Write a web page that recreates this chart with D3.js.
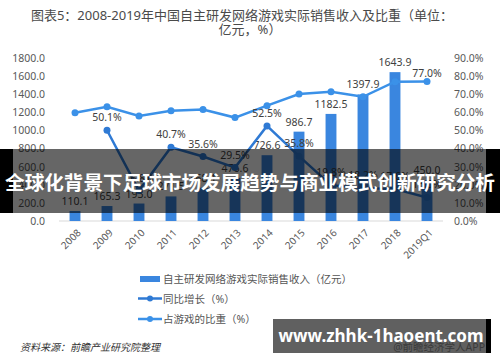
<!DOCTYPE html>
<html>
<head>
<meta charset="utf-8">
<script src="https://cdn.jsdelivr.net/npm/d3@7"></script>
<style>
  html, body { margin: 0; padding: 0; background: #fff; }
  svg text { font-family: "Noto Sans", "Noto Sans CJK SC", sans-serif; }
</style>
</head>
<body>
<div id="chart"></div>
<script>
// 2008-2019 self-developed online game revenue and share

const years = ['2008', '2009', '2010', '2011', '2012', '2013', '2014', '2015', '2016', '2017', '2018', '2019Q1'];
const revenue = [110.1, 165.3, 193.0, 271.5, 368.1, 476.6, 726.6, 986.7, 1182.5, 1397.9, 1643.9, 450.0];
const growth = [null, 50.1, 16.8, 40.7, 35.6, 29.5, 52.5, 35.8, 19.8, 18.2, 17.6, 13.0];
const share = [59.8, 63.1, 58.0, 60.9, 61.5, 57.1, 63.7, 70.1, 71.4, 68.6, 76.9, 77.0];
const leftTicks = [0, 200, 400, 600, 800, 1000, 1200, 1400, 1600, 1800];
const rightTicks = [0, 10, 20, 30, 40, 50, 60, 70, 80, 90];
const legendNames = ['自主研发网络游戏实际销售收入（亿元）', '同比增长（%）', '占游戏的比重（%）'];

function createChart() {
    const W = 500, H = 362;
    const svg = d3.select('#chart').append('svg')
        .attr('width', W)
        .attr('height', H);

    const barColor = '#3a86df';
    const growthColor = '#2f7ad4';
    const shareColor = '#3b91e8';
    const textColor = '#555';

    // Title
    const title = svg.append('text')
        .attr('x', 242)
        .attr('text-anchor', 'middle')
        .attr('font-size', '13px')
        .attr('fill', '#4a4a4a');
    title.append('tspan').attr('x', 242).attr('y', 20).text('图表5：2008-2019年中国自主研发网络游戏实际销售收入及比重（单位：');
    title.append('tspan').attr('x', 250).attr('y', 34).text('亿元，%）');

    // Scales
    const x = d3.scaleBand()
        .domain(years)
        .range([59, 443])
        .paddingInner(0.66)
        .paddingOuter(0.33);

    const y1 = d3.scaleLinear().domain([0, 1800]).range([221, 58]);
    const y2 = d3.scaleLinear().domain([0, 90]).range([221, 58]);
    const cx = d => x(d) + x.bandwidth() / 2;

    // Axes
    const left = svg.append('g')
        .attr('transform', 'translate(47,0)')
        .call(d3.axisLeft(y1).tickValues(leftTicks).tickSize(0).tickPadding(2).tickFormat(d3.format('.1f')));
    left.select('.domain').remove();

    const right = svg.append('g')
        .attr('transform', 'translate(452,0)')
        .call(d3.axisRight(y2).tickValues(rightTicks).tickSize(0).tickPadding(2).tickFormat(d => d.toFixed(1) + '%'));
    right.select('.domain').remove();

    svg.selectAll('.tick text')
        .attr('fill', '#595959')
        .attr('font-size', '10.5px')
        .attr('font-family', '"Noto Sans", sans-serif');

    // Baseline
    svg.append('line')
        .attr('x1', 59).attr('x2', 443)
        .attr('y1', y1(0)).attr('y2', y1(0))
        .attr('stroke', '#d9d9d9')
        .attr('stroke-width', 1);

    // X labels
    const xa = svg.append('g')
        .attr('transform', `translate(0,${y1(0)})`)
        .call(d3.axisBottom(x).tickSize(0).tickPadding(0));
    xa.select('.domain').remove();
    xa.selectAll('.tick text')
        .attr('text-anchor', 'end')
        .attr('transform', 'translate(4,10) rotate(-45)')
        .attr('dy', '0.35em')
        .attr('fill', '#595959')
        .attr('font-size', '10px');

    // Bars
    svg.selectAll('.bar')
        .data(years)
        .enter()
        .append('rect')
        .attr('class', 'bar')
        .attr('x', d => x(d))
        .attr('y', (d, i) => y1(revenue[i]))
        .attr('width', x.bandwidth())
        .attr('height', (d, i) => y1(0) - y1(revenue[i]))
        .attr('fill', barColor);

    svg.selectAll('.bar-label')
        .data(years)
        .enter()
        .append('text')
        .attr('x', d => cx(d))
        .attr('y', (d, i) => y1(revenue[i]) - 6)
        .attr('text-anchor', 'middle')
        .attr('font-size', '10.5px')
        .attr('fill', '#404040')
        .text((d, i) => revenue[i].toFixed(1));

    // Share line
    const shareLine = d3.line()
        .x(d => cx(d.year))
        .y(d => y2(d.v));
    const shareData = years.map((y, i) => ({ year: y, v: share[i] }));

    svg.append('path')
        .datum(shareData)
        .attr('fill', 'none')
        .attr('stroke', shareColor)
        .attr('stroke-width', 2.5)
        .attr('d', shareLine);

    svg.selectAll('.share-dot')
        .data(shareData)
        .enter()
        .append('circle')
        .attr('cx', d => cx(d.year))
        .attr('cy', d => y2(d.v))
        .attr('r', 3.5)
        .attr('fill', shareColor);

    const lastShare = shareData[shareData.length - 1];
    svg.append('text')
        .attr('x', cx(lastShare.year))
        .attr('y', y2(lastShare.v) - 5)
        .attr('text-anchor', 'middle')
        .attr('font-size', '10.5px')
        .attr('fill', '#404040')
        .text(lastShare.v.toFixed(1) + '%');

    // Growth line
    const growthData = years.map((y, i) => ({ year: y, v: growth[i] })).filter(d => d.v !== null);

    svg.append('path')
        .datum(growthData)
        .attr('fill', 'none')
        .attr('stroke', growthColor)
        .attr('stroke-width', 2.5)
        .attr('d', shareLine);

    svg.selectAll('.growth-dot')
        .data(growthData)
        .enter()
        .append('circle')
        .attr('cx', d => cx(d.year))
        .attr('cy', d => y2(d.v))
        .attr('r', 3.5)
        .attr('fill', growthColor);

    svg.selectAll('.growth-label')
        .data(growthData)
        .enter()
        .append('text')
        .attr('x', d => cx(d.year))
        .attr('y', d => y2(d.v) - 9)
        .attr('text-anchor', 'middle')
        .attr('font-size', '10.5px')
        .attr('fill', '#404040')
        .text(d => d.v.toFixed(1) + '%');

    // Legend
    const legend = svg.append('g').attr('transform', 'translate(140,279)');
    legend.append('rect')
        .attr('x', 0).attr('y', -3)
        .attr('width', 20).attr('height', 6)
        .attr('fill', barColor);
    [growthColor, shareColor].forEach((c, i) => {
        const gy = 19.5 + i * 20.5;
        legend.append('line')
            .attr('x1', -2).attr('x2', 22)
            .attr('y1', gy).attr('y2', gy)
            .attr('stroke', c).attr('stroke-width', 2.5);
        legend.append('circle')
            .attr('cx', 10).attr('cy', gy).attr('r', 3)
            .attr('fill', c);
    });
    legend.selectAll('.legend-text')
        .data(legendNames)
        .enter()
        .append('text')
        .attr('x', 23)
        .attr('y', (d, i) => i * 20 + i * 0.25)
        .attr('dy', '0.35em')
        .attr('font-size', '10.5px')
        .attr('fill', textColor)
        .attr('font-family', '"Noto Sans CJK SC", sans-serif')
        .text(d => d);

    // Source
    svg.append('text')
        .attr('x', 20)
        .attr('y', 351)
        .attr('font-size', '10px')
        .attr('font-style', 'italic')
        .attr('fill', '#333')
        .attr('font-family', '"Noto Sans CJK SC", sans-serif')
        .text('资料来源：前瞻产业研究院整理');

    // Overlay banner
    svg.append('rect')
        .attr('x', 0).attr('y', 149)
        .attr('width', W).attr('height', 64)
        .attr('fill', '#000').attr('opacity', 0.6);
    svg.append('rect')
        .attr('x', 0).attr('y', 149).attr('width', 13).attr('height', 64).attr('fill', '#000');
    svg.append('rect')
        .attr('x', 486).attr('y', 149).attr('width', 14).attr('height', 64).attr('fill', '#000');
    svg.append('text')
        .attr('x', 250)
        .attr('y', 183)
        .attr('dy', '0.36em')
        .attr('text-anchor', 'middle')
        .attr('font-size', '19.6px')
        .attr('font-weight', 'bold')
        .attr('fill', '#fff')
        .attr('font-family', '"Noto Sans CJK SC", sans-serif')
        .text('全球化背景下足球市场发展趋势与商业模式创新研究分析');

    // Bottom watermark box
    svg.append('rect')
        .attr('x', 273).attr('y', 319).attr('width', 213).attr('height', 34)
        .attr('fill', '#606060');
    svg.append('rect')
        .attr('x', 486).attr('y', 319).attr('width', 5).attr('height', 34)
        .attr('fill', '#000');
    svg.append('text')
        .attr('x', 485)
        .attr('y', 351)
        .attr('text-anchor', 'end')
        .attr('font-size', '10.5px')
        .attr('fill', '#3a3a3a')
        .attr('font-family', '"Noto Sans CJK SC", sans-serif')
        .text('@前瞻经济学人APP');
    svg.append('text')
        .attr('x', 381)
        .attr('y', 342)
        .attr('text-anchor', 'middle')
        .attr('font-size', '17px')
        .attr('font-weight', 'bold')
        .attr('fill', '#fff')
        .attr('font-family', '"Noto Sans", "Open Sans", sans-serif')
        .text('www.zhhk-1haoent.com');
}

createChart();
</script>
</body>
</html>
